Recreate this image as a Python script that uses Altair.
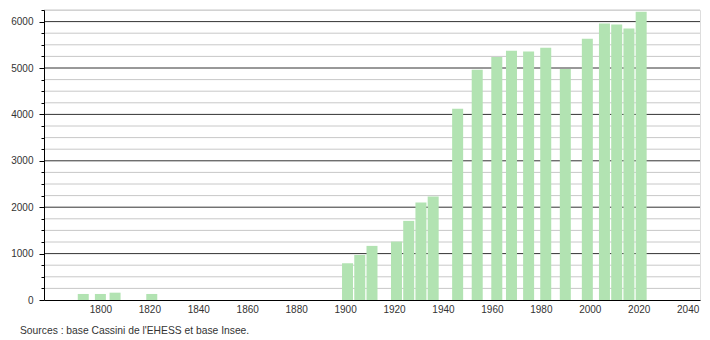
import altair as alt
import pandas as pd

years = [1793, 1800, 1806, 1821, 1901, 1906, 1911, 1921, 1926, 1931, 1936,
         1946, 1954, 1962, 1968, 1975, 1982, 1990, 1999, 2006, 2011, 2016, 2021]
population = [130, 130, 158, 130, 792, 971, 1166, 1259, 1705, 2101, 2230,
              4122, 4964, 5237, 5374, 5353, 5439, 4979, 5633, 5957, 5936, 5849, 6210]
x_ticks = list(range(1800, 2041, 20))
major_grid = [1000, 2000, 3000, 4000, 5000, 6000]
minor_grid = [v for v in range(250, 6251, 250) if v % 1000 != 0]
y_ticks = list(range(0, 6251, 250))
source_text = "Sources : base Cassini de l'EHESS et base Insee."

FONT = "Liberation Sans"

df = pd.DataFrame({"year": years, "pop": population})

xscale = alt.Scale(domain=[1779, 2043], nice=False, zero=False)
yscale = alt.Scale(domain=[0, 6250], nice=False)

yaxis = alt.Axis(values=y_ticks, format="d", grid=False,
                 labelExpr="datum.value % 1000 === 0 ? datum.label : ''",
                 tickSize={"condition": {"test": "datum.value % 1000 === 0", "value": 5}, "value": 3},
                 tickColor="#000000", domainColor="#000000",
                 labelFont=FONT, labelFontSize=10, labelColor="#333333",
                 labelPadding=6, labelFlush=False, zindex=1)

minor = alt.Chart(pd.DataFrame({"v": minor_grid})).mark_rule(
    color="#c8c8c8", strokeWidth=1
).encode(y=alt.Y("v:Q", scale=yscale, axis=yaxis, title=None))

major = alt.Chart(pd.DataFrame({"v": major_grid})).mark_rule(
    color="#333333", strokeWidth=1
).encode(y=alt.Y("v:Q", scale=yscale, axis=yaxis, title=None))

bars = alt.Chart(df).mark_bar(size=11, color="#b2e3b2").encode(
    x=alt.X("year:Q", scale=xscale, title=None,
            axis=alt.Axis(values=x_ticks, format="d", ticks=False, grid=False,
                          domainColor="#000000", domainWidth=1,
                          labelFont=FONT, labelFontSize=10, labelColor="#333333",
                          labelPadding=4, labelFlush=False, zindex=1)),
    y=alt.Y("pop:Q", scale=yscale, title=None, axis=yaxis),
)

src = alt.Chart(pd.DataFrame({"t": [source_text]})).mark_text(
    align="left", baseline="middle", font=FONT, fontSize=10.3, color="#333333"
).encode(text="t:N", x=alt.value(-24), y=alt.value(321))

chart = alt.layer(minor, major, bars, src).properties(
    width=656, height=290,
    autosize=alt.AutoSizeParams(type="none"),
    padding={"left": 44, "top": 10, "right": 10, "bottom": 40},
).configure_view(stroke=None).configure(background="white")

chart.save("out.html", embed_options={"renderer": "svg", "actions": False})
